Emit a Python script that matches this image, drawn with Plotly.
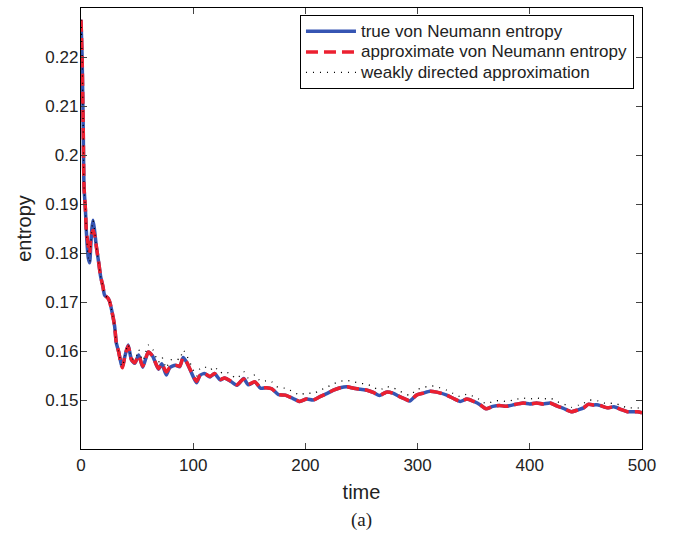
import plotly.graph_objects as go

# time samples
time = [0, 1, 2, 2.7, 3.9, 4.8, 5.6, 6.5, 7.7, 8.7, 9.7, 10.7, 12, 13.7, 15.8, 17.5, 19.6,
        21, 24, 25.5, 28.5, 30, 31.5, 33.5, 36, 37, 39, 42, 45, 48, 51.4, 55, 60, 64, 69,
        72, 76, 79, 84, 88, 91, 94, 98,
        103, 106, 110, 115, 119, 124, 128, 134, 139, 145, 149, 155, 160, 165, 170,
        176, 182, 189, 195, 201, 207, 213, 219, 225, 231, 237, 243, 249, 255, 261,
        266, 272, 278, 284, 289, 293, 299, 305, 311, 317, 326, 332, 338, 344, 350,
        356, 361, 367, 373, 379, 385, 394, 400, 406, 412, 418, 424, 430, 437, 443,
        448, 452, 457, 461, 469, 475, 481, 487, 496, 500]

true_entropy = [0.2276, 0.2200, 0.2050, 0.1935, 0.1890, 0.1843, 0.1812, 0.1790, 0.1780, 0.1815,
                0.1850, 0.1867, 0.1848, 0.1813, 0.1780, 0.1752, 0.1731, 0.1714, 0.1708, 0.1701,
                0.1670, 0.1650, 0.1616, 0.1599, 0.1572, 0.1568, 0.1588, 0.1612, 0.1582, 0.1575,
                0.1592, 0.1567, 0.1598, 0.1589, 0.1563, 0.1574, 0.1551, 0.1566, 0.1571, 0.1568,
                0.1587, 0.1578, 0.1558,
                0.1535, 0.1550, 0.1554, 0.1547, 0.1554, 0.1541, 0.1545, 0.1537, 0.1530, 0.1544,
                0.1531, 0.1537, 0.1524, 0.1525, 0.1523, 0.1511, 0.1510, 0.1503, 0.1497, 0.1502,
                0.1500, 0.1507, 0.1513, 0.1520, 0.1525, 0.1527, 0.1524, 0.1522, 0.1520, 0.1515,
                0.1509, 0.1516, 0.1514, 0.1507, 0.1502, 0.1498, 0.1510, 0.1514, 0.1518, 0.1516,
                0.1510, 0.1503, 0.1497, 0.1502, 0.1497, 0.1490, 0.1482, 0.1487, 0.1489, 0.1487,
                0.1490, 0.1494, 0.1492, 0.1494, 0.1492, 0.1494, 0.1488, 0.1483, 0.1476, 0.1480,
                0.1484, 0.1491, 0.1490, 0.1490, 0.1484, 0.1486, 0.1481, 0.1476, 0.1476, 0.1474]

approx_entropy = [0.2276, 0.2200, 0.2050, 0.1935, 0.1890, 0.1843, 0.1830, 0.1815, 0.1800, 0.1830,
                  0.1840, 0.1846, 0.1838, 0.1813, 0.1780, 0.1752, 0.1731, 0.1714, 0.1708, 0.1701,
                  0.1670, 0.1650, 0.1616, 0.1599, 0.1570, 0.1566, 0.1588, 0.1610, 0.1582, 0.1576,
                  0.1591, 0.1569, 0.1598, 0.1589, 0.1564, 0.1574, 0.1557, 0.1566, 0.1571, 0.1569,
                  0.1586, 0.1578, 0.1559,
                  0.1538, 0.1550, 0.1554, 0.1548, 0.1554, 0.1542, 0.1545, 0.1538, 0.1531, 0.1543,
                  0.1532, 0.1537, 0.1525, 0.1525, 0.1523, 0.1511, 0.1510, 0.1503, 0.1497, 0.1502,
                  0.1500, 0.1507, 0.1513, 0.1520, 0.1525, 0.1527, 0.1524, 0.1522, 0.1520, 0.1515,
                  0.1509, 0.1516, 0.1514, 0.1507, 0.1502, 0.1498, 0.1510, 0.1514, 0.1518, 0.1516,
                  0.1510, 0.1503, 0.1497, 0.1502, 0.1497, 0.1490, 0.1482, 0.1487, 0.1489, 0.1487,
                  0.1490, 0.1494, 0.1492, 0.1494, 0.1492, 0.1494, 0.1488, 0.1483, 0.1476, 0.1480,
                  0.1484, 0.1491, 0.1490, 0.1490, 0.1484, 0.1486, 0.1481, 0.1476, 0.1476, 0.1474]

weak_entropy = [0.2276, 0.2200, 0.2050, 0.1935, 0.1890, 0.1843, 0.1812, 0.1790, 0.1780, 0.1815,
                0.1850, 0.1867, 0.1848, 0.1813, 0.1780, 0.1752, 0.1731, 0.1714, 0.1708, 0.1701,
                0.1670, 0.1650, 0.1616, 0.1599, 0.1572, 0.1568, 0.1589, 0.1614, 0.1586, 0.1582,
                0.1603, 0.1580, 0.1612, 0.1603, 0.1577, 0.1588, 0.1565, 0.1580, 0.1585, 0.1582,
                0.1602, 0.1592, 0.1572,
                0.1549, 0.1564, 0.1568, 0.1561, 0.1568, 0.1555, 0.1559, 0.1551, 0.1544, 0.1558,
                0.1545, 0.1551, 0.1538, 0.1539, 0.1537, 0.1525, 0.1524, 0.1517, 0.1510, 0.1515,
                0.1513, 0.1520, 0.1526, 0.1533, 0.1538, 0.1540, 0.1537, 0.1534, 0.1532, 0.1526,
                0.1520, 0.1527, 0.1525, 0.1518, 0.1513, 0.1509, 0.1521, 0.1525, 0.1529, 0.1527,
                0.1520, 0.1513, 0.1507, 0.1512, 0.1507, 0.1500, 0.1492, 0.1497, 0.1499, 0.1497,
                0.1500, 0.1504, 0.1502, 0.1504, 0.1502, 0.1504, 0.1497, 0.1492, 0.1485, 0.1489,
                0.1493, 0.1500, 0.1499, 0.1498, 0.1492, 0.1494, 0.1489, 0.1484, 0.1484, 0.1482]

xticks = [0, 100, 200, 300, 400, 500]
yticks = [0.15, 0.16, 0.17, 0.18, 0.19, 0.20, 0.21, 0.22, 0.23]
yticktext = ["0.15", "0.16", "0.17", "0.18", "0.19", "0.2", "0.21", "0.22", "0.23"]

names = ["true von Neumann entropy", "approximate von Neumann entropy",
         "weakly directed approximation"]


def legend_label(s):
    return '<span style="font-size:17px">' + s + '</span>'


fig = go.Figure()
fig.add_trace(go.Scatter(x=time, y=true_entropy, mode="lines", name=legend_label(names[0]),
                         line=dict(color="#3655b3", width=3.5, shape="spline", smoothing=0.6)))
fig.add_trace(go.Scatter(x=time, y=approx_entropy, mode="lines", name=legend_label(names[1]),
                         line=dict(color="#ec2030", width=3.5, dash="12px,6px",
                                   shape="spline", smoothing=0.6)))
fig.add_trace(go.Scatter(x=time, y=weak_entropy, mode="lines", name=legend_label(names[2]),
                         line=dict(color="black", width=1.3, dash="1px,6px",
                                   shape="spline", smoothing=0.6)))

fig.update_layout(
    width=678, height=536,
    margin=dict(l=81, r=36, t=8, b=87),
    plot_bgcolor="white", paper_bgcolor="white",
    font=dict(family="Liberation Sans, Arial, sans-serif", size=17, color="#222"),
    legend=dict(x=0.9857, y=0.984, xanchor="right", yanchor="top",
                bgcolor="white", bordercolor="black", borderwidth=1,
                font=dict(size=13.5), itemwidth=50, tracegroupgap=0),
    annotations=[dict(text="(a)", x=0.5, y=-0.161, xref="paper", yref="paper",
                      xanchor="center", yanchor="middle", showarrow=False,
                      font=dict(family="Liberation Serif, Times New Roman, serif", size=19))],
)
fig.update_xaxes(range=[0, 500], tickvals=xticks, ticks="inside", ticklen=6,
                 showline=True, linecolor="black", linewidth=1.3, mirror="ticks",
                 showgrid=False, zeroline=False, tickfont=dict(size=17),
                 title=dict(text="time", font=dict(size=20), standoff=11))
fig.update_yaxes(range=[0.14, 0.23], tickvals=yticks, ticktext=yticktext,
                 ticks="inside", ticklen=6, ticklabelstandoff=-2,
                 showline=True, linecolor="black", linewidth=1.3, mirror="ticks",
                 showgrid=False, zeroline=False, tickfont=dict(size=17),
                 title=dict(text="entropy", font=dict(size=20), standoff=8))

fig.write_html("out.html", config={"displayModeBar": False},
               post_script="document.body.style.margin='0';")
